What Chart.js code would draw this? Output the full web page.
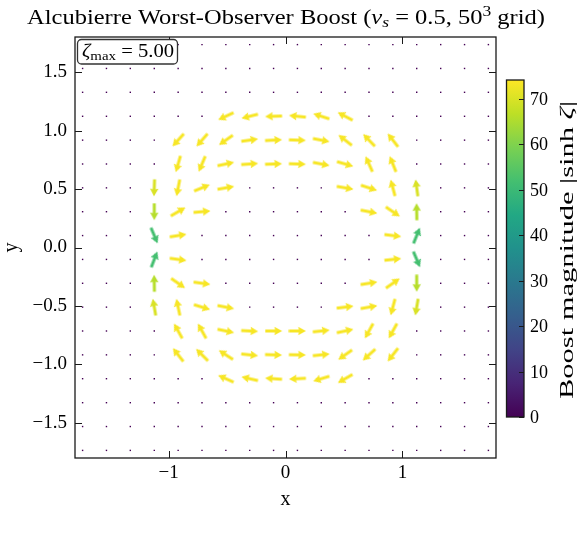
<!DOCTYPE html>
<html>
<head>
<meta charset="utf-8">
<title>Alcubierre Worst-Observer Boost</title>
<script src="https://cdn.jsdelivr.net/npm/chart.js@4.4.0/dist/chart.umd.min.js"></script>
<style>
  html, body { margin: 0; padding: 0; background: #fff; }
  #wrap { width: 586px; height: 553px; position: relative; }
</style>
</head>
<body>
<div id="wrap"><canvas id="chartBoost"></canvas></div>
<script>
// Datos del campo de boost
const gridX = [-1.735, -1.531, -1.327, -1.122, -0.918, -0.714, -0.510, -0.306, -0.102,
               0.102, 0.306, 0.510, 0.714, 0.918, 1.122, 1.327, 1.531, 1.735];
const gridY = gridX.slice();
const xTicks = [-1, 0, 1];
const yTicks = [-1.5, -1.0, -0.5, 0.0, 0.5, 1.0, 1.5];
const boostTicks = [0, 10, 20, 30, 40, 50, 60, 70];
const boostMax = 74.2;   // sinh(zeta_max)
const zetaMax = '5.00';

// Flechas: posición, ángulo (grados, antihorario) y |sinh ζ|
const arrowX = [
  -0.510, -0.306, -0.102, 0.102, 0.306, 0.510,
  -0.918, -0.714, -0.510, -0.306, -0.102, 0.102, 0.306, 0.510, 0.714, 0.918,
  -0.918, -0.714, -0.510, -0.306, -0.102, 0.102, 0.306, 0.510, 0.714, 0.918,
  -1.122, -0.918, -0.714, -0.510, 0.510, 0.714, 0.918, 1.122,
  -1.122, -0.918, -0.714, 0.714, 0.918, 1.122,
  -1.122, -0.918, 0.918, 1.122,
  -1.122, -0.918, 0.918, 1.122,
  -1.122, -0.918, -0.714, 0.714, 0.918, 1.122,
  -1.122, -0.918, -0.714, -0.510, 0.510, 0.714, 0.918, 1.122,
  -0.918, -0.714, -0.510, -0.306, -0.102, 0.102, 0.306, 0.510, 0.714, 0.918,
  -0.918, -0.714, -0.510, -0.306, -0.102, 0.102, 0.306, 0.510, 0.714, 0.918,
  -0.510, -0.306, -0.102, 0.102, 0.306, 0.510
];
const arrowY = [
  1.122, 1.122, 1.122, 1.122, 1.122, 1.122,
  0.918, 0.918, 0.918, 0.918, 0.918, 0.918, 0.918, 0.918, 0.918, 0.918,
  0.714, 0.714, 0.714, 0.714, 0.714, 0.714, 0.714, 0.714, 0.714, 0.714,
  0.510, 0.510, 0.510, 0.510, 0.510, 0.510, 0.510, 0.510,
  0.306, 0.306, 0.306, 0.306, 0.306, 0.306,
  0.102, 0.102, 0.102, 0.102,
  -0.102, -0.102, -0.102, -0.102,
  -0.306, -0.306, -0.306, -0.306, -0.306, -0.306,
  -0.510, -0.510, -0.510, -0.510, -0.510, -0.510, -0.510, -0.510,
  -0.714, -0.714, -0.714, -0.714, -0.714, -0.714, -0.714, -0.714, -0.714, -0.714,
  -0.918, -0.918, -0.918, -0.918, -0.918, -0.918, -0.918, -0.918, -0.918, -0.918,
  -1.122, -1.122, -1.122, -1.122, -1.122, -1.122
];
const arrowAngle = [
  205, 194, 182, 174, 162, 152,
  228, 229, 215, 8, 3, 358, 349, 142, 134, 128,
  254, 247, 12, 4, 2, 358, 349, 344, 114, 112,
  268, 259, 22, 10, 350, 342, 105, 98,
  270, 30, 5, 349, 326, 91,
  293, 9, 353, 68,
  69, 352, 6, 293,
  91, 325, 352, 9, 35, 270,
  100, 102, 343, 349, 7, 10, 255, 260,
  119, 119, 348, 357, 0, 0, 6, 12, 241, 241,
  128, 135, 147, 354, 358, 359, 6, 215, 222, 232,
  156, 167, 176, 183, 197, 210
];
const arrowBoost = [
  73.5, 73.5, 73.5, 73.5, 73.5, 73.5,
  73.5, 73.5, 73.5, 73.5, 73.5, 73.5, 73.5, 73.5, 73.5, 73.5,
  73.5, 73.5, 73.5, 73.5, 73.5, 73.5, 73.5, 73.5, 73.5, 73.5,
  70, 73.5, 73.5, 73.5, 73.5, 73.5, 73.5, 70,
  66, 73.5, 73.5, 73.5, 73.5, 66,
  52, 73.5, 73.5, 52,
  52, 73.5, 73.5, 52,
  66, 73.5, 73.5, 73.5, 73.5, 66,
  70, 73.5, 73.5, 73.5, 73.5, 73.5, 73.5, 70,
  73.5, 73.5, 73.5, 73.5, 73.5, 73.5, 73.5, 73.5, 73.5, 73.5,
  73.5, 73.5, 73.5, 73.5, 73.5, 73.5, 73.5, 73.5, 73.5, 73.5,
  73.5, 73.5, 73.5, 73.5, 73.5, 73.5
];

const SERIF = "'Liberation Serif', 'DejaVu Serif', serif";

// Mapa de color viridis
const viridisStops = ['#440154', '#482475', '#414487', '#355f8d', '#2a788e', '#21918c',
                      '#22a884', '#44bf70', '#7ad151', '#bddf26', '#fde725'];
function hexRgb(h) {
  return [parseInt(h.slice(1, 3), 16), parseInt(h.slice(3, 5), 16), parseInt(h.slice(5, 7), 16)];
}
function viridis(t) {
  t = Math.max(0, Math.min(1, t));
  const p = t * 10;
  const i = Math.min(9, Math.floor(p));
  const f = p - i;
  const a = hexRgb(viridisStops[i]), b = hexRgb(viridisStops[i + 1]);
  const c = a.map((v, k) => Math.round(v + (b[k] - v) * f));
  return `rgb(${c[0]},${c[1]},${c[2]})`;
}

// Imagen de flecha (apunta a la derecha, centrada)
const arrowCache = {};
function arrowImage(color) {
  if (arrowCache[color]) return arrowCache[color];
  const c = document.createElement('canvas');
  c.width = 18; c.height = 10;
  const g = c.getContext('2d');
  const cy = 5, x0 = 0.5, x1 = 17.5;
  g.fillStyle = color;
  g.beginPath();
  g.moveTo(x0, cy - 1.6);
  g.lineTo(x1 - 7, cy - 1.6);
  g.lineTo(x1 - 7.8, cy - 4.3);
  g.lineTo(x1, cy);
  g.lineTo(x1 - 7.8, cy + 4.3);
  g.lineTo(x1 - 7, cy + 1.6);
  g.lineTo(x0, cy + 1.6);
  g.closePath();
  g.fill();
  arrowCache[color] = c;
  return c;
}

function fmtMinus(s) {
  return s.replace('-', '\u2212');
}

// Puntos de la malla sin flecha
const arrowPoints = arrowX.map((x, i) => ({ x: x, y: arrowY[i] }));
const dotPoints = [];
gridY.forEach(y => {
  gridX.forEach(x => {
    const taken = arrowPoints.some(p => Math.abs(p.x - x) < 0.01 && Math.abs(p.y - y) < 0.01);
    if (!taken) dotPoints.push({ x: x, y: y });
  });
});

// Texto con sub/superíndices, ajustado a un ancho dado
function drawRich(ctx, parts, cx, baseline, fitWidth) {
  let total = 0;
  parts.forEach(p => { ctx.font = p.font; p.w = ctx.measureText(p.t).width; total += p.w; });
  const k = fitWidth ? fitWidth / total : 1;
  ctx.save();
  ctx.translate(cx, baseline);
  ctx.scale(k, 1);
  let xPos = -total / 2;
  ctx.textAlign = 'left';
  ctx.textBaseline = 'alphabetic';
  parts.forEach(p => {
    ctx.font = p.font;
    ctx.fillText(p.t, xPos, p.dy || 0);
    xPos += p.w;
  });
  ctx.restore();
}

const extrasPlugin = {
  id: 'extras',
  afterDraw(chart) {
    const { ctx, chartArea: a, scales } = chart;
    const sx = scales.x, sy = scales.y;
    ctx.save();

    // Marco
    ctx.strokeStyle = '#1a1a1a';
    ctx.lineWidth = 1.3;
    ctx.strokeRect(a.left, a.top, a.right - a.left, a.bottom - a.top);

    // Marcas hacia dentro
    ctx.lineWidth = 1;
    ctx.beginPath();
    xTicks.forEach(v => {
      const px = Math.round(sx.getPixelForValue(v)) + 0.5;
      ctx.moveTo(px, a.bottom); ctx.lineTo(px, a.bottom - 7);
      ctx.moveTo(px, a.top); ctx.lineTo(px, a.top + 7);
    });
    yTicks.forEach(v => {
      const py = Math.round(sy.getPixelForValue(v)) + 0.5;
      ctx.moveTo(a.left, py); ctx.lineTo(a.left + 7, py);
      ctx.moveTo(a.right, py); ctx.lineTo(a.right - 7, py);
    });
    ctx.stroke();

    ctx.fillStyle = '#000';

    // Título
    drawRich(ctx, [
      { t: 'Alcubierre Worst-Observer Boost (', font: `21px ${SERIF}` },
      { t: 'v', font: `italic 21px ${SERIF}` },
      { t: 's', font: `italic 15px ${SERIF}`, dy: 3 },
      { t: ' = 0.5, 50', font: `21px ${SERIF}` },
      { t: '3', font: `15px ${SERIF}`, dy: -8 },
      { t: ' grid)', font: `21px ${SERIF}` }
    ], 286, 24, 518);

    // Etiquetas de ejes
    ctx.font = `20px ${SERIF}`;
    ctx.textAlign = 'center';
    ctx.textBaseline = 'middle';
    ctx.fillText('x', (a.left + a.right) / 2, 500);
    ctx.save();
    ctx.translate(12, (a.top + a.bottom) / 2);
    ctx.rotate(-Math.PI / 2);
    ctx.fillText('y', 0, 0);
    ctx.restore();

    // Caja zeta_max
    const bx = 77.5, by = 39.5, bw = 100, bh = 24.5;
    ctx.fillStyle = '#fff';
    ctx.strokeStyle = '#333';
    ctx.lineWidth = 1.3;
    ctx.beginPath();
    ctx.roundRect(bx, by, bw, bh, 4);
    ctx.fill();
    ctx.stroke();
    ctx.fillStyle = '#000';
    drawRich(ctx, [
      { t: '\u03B6', font: `italic 18px ${SERIF}` },
      { t: 'max', font: `13px ${SERIF}`, dy: 3 },
      { t: ' = ' + zetaMax, font: `18px ${SERIF}` }
    ], 128, 57, 92);

    // Barra de color
    const cb = { left: 506.5, right: 524, top: 80, bottom: 417 };
    const grad = ctx.createLinearGradient(0, cb.bottom, 0, cb.top);
    viridisStops.forEach((c, i) => grad.addColorStop(i / 10, c));
    ctx.fillStyle = grad;
    ctx.fillRect(cb.left, cb.top, cb.right - cb.left, cb.bottom - cb.top);
    ctx.strokeStyle = '#1a1a1a';
    ctx.lineWidth = 1.3;
    ctx.strokeRect(cb.left, cb.top, cb.right - cb.left, cb.bottom - cb.top);
    ctx.lineWidth = 1;
    ctx.fillStyle = '#000';
    ctx.font = `18px ${SERIF}`;
    ctx.textAlign = 'left';
    ctx.textBaseline = 'middle';
    boostTicks.forEach(v => {
      const py = Math.round(cb.bottom - (v / boostMax) * (cb.bottom - cb.top)) + 0.5;
      ctx.beginPath();
      ctx.moveTo(cb.right, py); ctx.lineTo(cb.right - 5, py);
      ctx.stroke();
      ctx.fillText(String(v), 530, py + 1);
    });
    ctx.save();
    ctx.translate(566, 250);
    ctx.rotate(-Math.PI / 2);
    drawRich(ctx, [
      { t: 'Boost magnitude |sinh ', font: `19px ${SERIF}` },
      { t: '\u03B6', font: `italic 19px ${SERIF}` },
      { t: '|', font: `19px ${SERIF}` }
    ], 0, 7, 298);
    ctx.restore();

    ctx.restore();
  }
};

const canvas = document.getElementById('chartBoost');
new Chart(canvas.getContext('2d'), {
  type: 'scatter',
  data: {
    datasets: [{
      label: 'grid',
      data: dotPoints,
      pointStyle: 'rect',
      pointRadius: 1,
      pointHoverRadius: 1,
      pointBackgroundColor: '#440154',
      pointBorderWidth: 0
    }, {
      label: 'boost',
      data: arrowPoints,
      pointRadius: 9,
      pointHoverRadius: 9,
      pointStyle: ctx => ctx.type === 'data'
        ? arrowImage(viridis(arrowBoost[ctx.dataIndex] / boostMax)) : 'circle',
      rotation: ctx => ctx.type === 'data' ? -arrowAngle[ctx.dataIndex] : 0
    }]
  },
  options: {
    responsive: true,
    maintainAspectRatio: false,
    devicePixelRatio: 1,
    animation: false,
    events: [],
    layout: { padding: { left: 0, right: 90, top: 37, bottom: 55 } },
    plugins: {
      legend: { display: false },
      tooltip: { enabled: false },
      title: { display: false }
    },
    scales: {
      x: {
        type: 'linear',
        min: -1.8,
        max: 1.8,
        grid: { display: false, drawTicks: false },
        border: { display: false },
        afterBuildTicks: axis => { axis.ticks = xTicks.map(v => ({ value: v })); },
        afterFit: axis => { axis.height = 40; },
        ticks: {
          color: '#000',
          padding: 4,
          maxRotation: 0,
          font: { family: SERIF, size: 19 },
          callback: v => fmtMinus(String(v))
        }
      },
      y: {
        type: 'linear',
        min: -1.8,
        max: 1.8,
        grid: { display: false, drawTicks: false },
        border: { display: false },
        afterBuildTicks: axis => { axis.ticks = yTicks.map(v => ({ value: v })); },
        afterFit: axis => { axis.width = 75; },
        ticks: {
          color: '#000',
          padding: 8,
          font: { family: SERIF, size: 19 },
          callback: v => fmtMinus(Number(v).toFixed(1))
        }
      }
    }
  },
  plugins: [extrasPlugin]
});
</script>
</body>
</html>
